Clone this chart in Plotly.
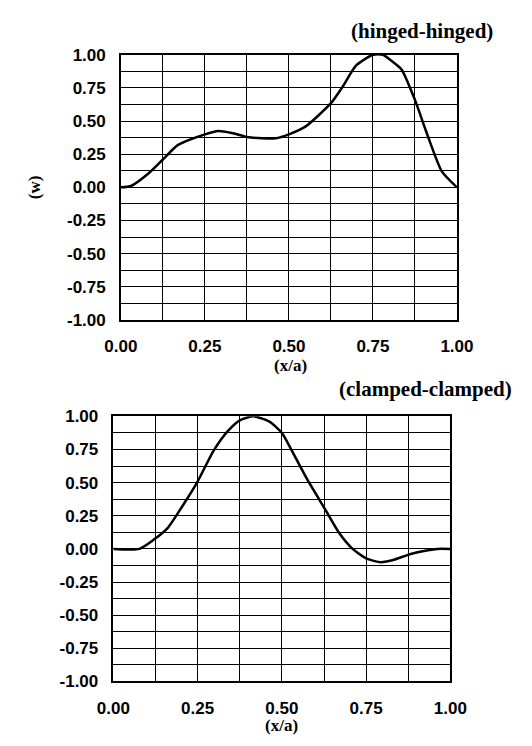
import plotly.graph_objects as go

# hinged-hinged mode shape
x_hh = [0.0, 0.03, 0.08, 0.125, 0.17, 0.25, 0.29, 0.33, 0.375, 0.42, 0.46, 0.50,
        0.55, 0.625, 0.66, 0.70, 0.75, 0.78, 0.805, 0.835, 0.875, 0.91, 0.955, 1.0]
w_hh = [0.0, 0.01, 0.10, 0.21, 0.32, 0.40, 0.425, 0.41, 0.38, 0.37, 0.37, 0.40,
        0.46, 0.635, 0.76, 0.92, 1.0, 1.0, 0.955, 0.89, 0.66, 0.41, 0.12, 0.0]

# clamped-clamped mode shape
x_cc = [0.0, 0.077, 0.12, 0.16, 0.204, 0.248, 0.297, 0.34, 0.375, 0.416, 0.463, 0.5,
        0.54, 0.576, 0.628, 0.67, 0.71, 0.752, 0.793, 0.835, 0.88, 0.934, 0.96, 1.0]
w_cc = [0.0, 0.0, 0.07, 0.155, 0.32, 0.50, 0.74, 0.89, 0.97, 1.0, 0.96, 0.875,
        0.69, 0.52, 0.30, 0.12, 0.0, -0.074, -0.10, -0.08, -0.04, -0.01, 0.0, 0.0]

tick_vals = [0.0, 0.25, 0.5, 0.75, 1.0]
tick_text = ["0.00", "0.25", "0.50", "0.75", "1.00"]
ytick_vals = [-1.0, -0.75, -0.5, -0.25, 0.0, 0.25, 0.5, 0.75, 1.0]
ytick_text = ["-1.00", "-0.75", "-0.50", "-0.25", "0.00", "0.25", "0.50", "0.75", "1.00"]

W, H = 532, 746

fig = go.Figure()
fig.add_trace(go.Scatter(x=x_hh, y=w_hh, mode="lines", xaxis="x", yaxis="y",
                         line=dict(color="black", width=2.5, shape="spline", smoothing=0.6),
                         showlegend=False, hoverinfo="skip"))
fig.add_trace(go.Scatter(x=x_cc, y=w_cc, mode="lines", xaxis="x2", yaxis="y2",
                         line=dict(color="black", width=2.5, shape="spline", smoothing=0.6),
                         showlegend=False, hoverinfo="skip"))

tickfont = dict(family="Liberation Sans, Arial, sans-serif", size=17, color="black", weight="bold")


def xax(domain, anchor):
    return dict(domain=domain, anchor=anchor, range=[0, 1], tickvals=tick_vals, ticktext=tick_text,
                showgrid=True, gridcolor="black", gridwidth=1.3,
                minor=dict(dtick=0.125, tick0=0, showgrid=True, gridcolor="black", gridwidth=1.3),
                showline=True, linecolor="black", linewidth=1.5, mirror=True,
                ticks="", tickfont=tickfont, ticklabelstandoff=10, zeroline=False, fixedrange=True)


def yax(domain, anchor):
    return dict(domain=domain, anchor=anchor, range=[-1, 1], tickvals=ytick_vals, ticktext=ytick_text,
                showgrid=True, gridcolor="black", gridwidth=1.3,
                minor=dict(dtick=0.125, tick0=0, showgrid=True, gridcolor="black", gridwidth=1.3),
                showline=True, linecolor="black", linewidth=1.5, mirror=True,
                ticks="", tickfont=tickfont, ticklabelstandoff=10, zeroline=False, fixedrange=True)


fig.update_layout(
    width=W, height=H, margin=dict(l=0, r=0, t=0, b=0),
    paper_bgcolor="white", plot_bgcolor="white",
    xaxis=xax([111 / W, 470 / W], "y"),
    yaxis=yax([1 - 319 / H, 1 - 47 / H], "x"),
    xaxis2=xax([103 / W, 463 / W], "y2"),
    yaxis2=yax([1 - 690 / H, 1 - 418 / H], "x2"),
)

serif = dict(family="Liberation Serif, Times New Roman, serif", color="black", weight="bold")

fig.add_annotation(text="(hinged-hinged)", xref="paper", yref="paper", x=511 / W, y=1 - 23 / H,
                   xanchor="right", yanchor="middle", showarrow=False, font=dict(size=21, **serif))
fig.add_annotation(text="(clamped-clamped)", xref="paper", yref="paper", x=531 / W, y=1 - 390 / H,
                   xanchor="right", yanchor="middle", showarrow=False, font=dict(size=21, **serif))
fig.add_annotation(text="(x/a)", xref="paper", yref="paper", x=292 / W, y=1 - 366 / H,
                   xanchor="center", yanchor="middle", showarrow=False, borderpad=0,
                   font=dict(size=17, **serif))
fig.add_annotation(text="(x/a)", xref="paper", yref="paper", x=283 / W, y=0,
                   xanchor="center", yanchor="bottom", showarrow=False, borderpad=0,
                   font=dict(size=17, **serif))
fig.add_annotation(text="(w)", xref="paper", yref="paper", x=18 / W, y=1 - 183 / H,
                   xanchor="center", yanchor="middle", showarrow=False, textangle=-90,
                   font=dict(size=17, **serif))

fig.write_html("out.html")
